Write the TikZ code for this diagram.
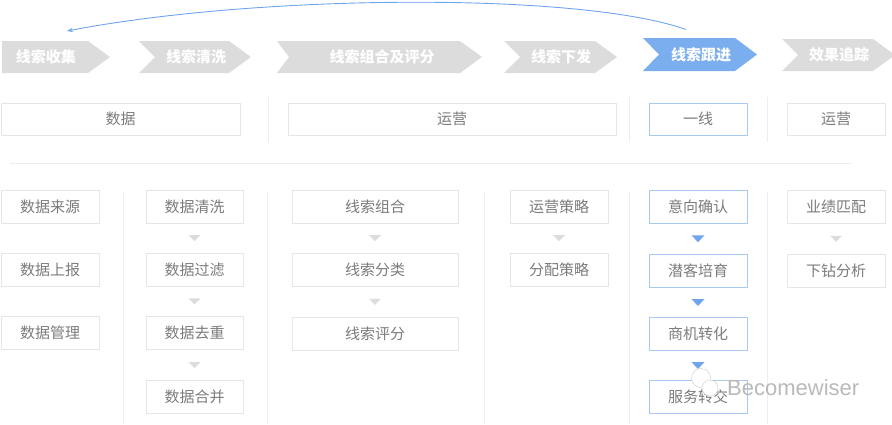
\documentclass[tikz,border=0pt]{standalone}
\usepackage{fontspec}
\newfontfamily\cjk{Noto Sans CJK SC}
\newfontfamily\wmfont{Liberation Sans}
\usepackage{tikz}
\usetikzlibrary{calc,positioning,arrows.meta}
\definecolor{chevgray}{HTML}{DCDCDC}
\definecolor{chevblue}{HTML}{7AAEEE}
\definecolor{boxline}{HTML}{E6E6E6}
\definecolor{blueline}{HTML}{A9C9F0}
\definecolor{sepline}{HTML}{EEEEEE}
\definecolor{txtgray}{HTML}{7C7C7C}
\definecolor{arrblue}{HTML}{6FA5EE}
\tikzset{
	chevtext/.style={text=white, font=\cjk\bfseries\fontsize{15}{18}\selectfont, inner sep=0pt},
	box/.style={draw=boxline, fill=white, text=txtgray, font=\cjk\fontsize{15}{18}\selectfont,
		minimum height=33pt, inner sep=0pt},
	bluebox/.style={box, draw=blueline},
	sep/.style={draw=sepline, line width=0.8pt},
	graytri/.style={fill=chevgray},
	bluetri/.style={fill=arrblue}
}

\begin{document}
\begin{tikzpicture}[x=1pt,y=-1pt]
			\useasboundingbox (0,0) rectangle (892,424);
			% process chevrons
			\foreach \l/\r/\t/\b/\n/\c/\tx/\lab [count=\i] in
				{2/88/41/73/0/chevgray/46/线索收集,
				 139/229/41/73/16/chevgray/196/线索清洗,
				 277/460/41/73/12/chevgray/382/线索组合及评分,
				 504/595/41/73/16/chevgray/561/线索下发,
				 643/735/38/71/16/chevblue/701/线索跟进,
				 782/873/39/71/16/chevgray/839/效果追踪}
			{
				\fill[\c] (\l,\t) -- (\r,\t) -- (\r+22,{(\t+\b)/2}) -- (\r,\b) -- (\l,\b)
					-- (\l+\n,{(\t+\b)/2}) -- cycle;
				\node[chevtext] (chev\i) at (\tx,{(\t+\b)/2}) {\lab};
			}
			\coordinate (backS) at ($(chev5)+(-15,-25)$);
			\coordinate (backE) at ($(chev1)+(21,-26)$);
			\draw[arrblue, line width=0.9pt, -{Stealth[length=6pt,width=4.5pt]}]
			(backS)
			.. controls (580,-8) and (260,-6) ..
			(backE);
			% roles
			\node[box, minimum width=239pt, minimum height=32pt] (data) at (120.5,119) {数据};
			\node[box, minimum width=328pt, minimum height=32pt] (ops) at (452,119) {运营};
			\node[bluebox, minimum width=98pt, minimum height=32pt] (front) at (698,119) {一线};
			\node[box, minimum width=98pt, minimum height=32pt] (ops2) at (836,119) {运营};
			\foreach \x in {268,629,767} \draw[sep] (\x,97) -- (\x,142);
			\draw[sep] (10,163) -- (851,163);
			\foreach \x in {123,267,484,629,767} \draw[sep] (\x,192) -- (\x,424);
			% steps
			\foreach \lab/\y [count=\i] in {数据来源/206.5,数据上报/269.5,数据管理/333}
				\node[box, minimum width=98pt] (src\i) at (50,\y) {\lab};
			\foreach \lab/\y [count=\i] in {数据清洗/206.5,数据过滤/269.5,数据去重/333,数据合并/397}
				\node[box, minimum width=97pt] (cln\i) at (194.5,\y) {\lab};
			\foreach \lab/\y [count=\i] in {线索组合/206.5,线索分类/269.5,线索评分/334}
				\node[box, minimum width=166pt] (grp\i) at (375,\y) {\lab};
			\foreach \lab/\y [count=\i] in {运营策略/206.5,分配策略/269.5}
				\node[box, minimum width=98pt] (dsp\i) at (559,\y) {\lab};
			\foreach \lab/\y [count=\i] in {意向确认/206.5,潜客培育/271,商机转化/334,服务转交/397}
				\node[bluebox, minimum width=98pt] (fol\i) at (698,\y) {\lab};
			\foreach \lab/\y [count=\i] in {业绩匹配/206.5,下钻分析/271}
				\node[box, minimum width=98pt] (trk\i) at (836,\y) {\lab};
			\foreach \a/\b in {cln1/cln2,cln2/cln3,cln3/cln4,grp1/grp2,grp2/grp3,dsp1/dsp2,trk1/trk2}
				\fill[graytri] ($(\a.south)!.5!(\b.north)$) ++(-6,-3) -- ++(12,0) -- ++(-6,6) -- cycle;
			\foreach \a/\b in {fol1/fol2,fol2/fol3,fol3/fol4}
				\fill[bluetri] ($(\a.south)!.5!(\b.north)$) ++(-6.5,-3.5) -- ++(13,0) -- ++(-6.5,7) -- cycle;
			% watermark
			\draw[gray!40, fill=white] (701,378) circle (9.5);
			\draw[gray!40, fill=white] (710,388) circle (8);
			\node[text=gray!55, font=\wmfont\fontsize{22}{24}\selectfont, inner sep=0pt, anchor=west] (mark) at (727,388) {Becomewiser};
		\end{tikzpicture}
\end{document}
